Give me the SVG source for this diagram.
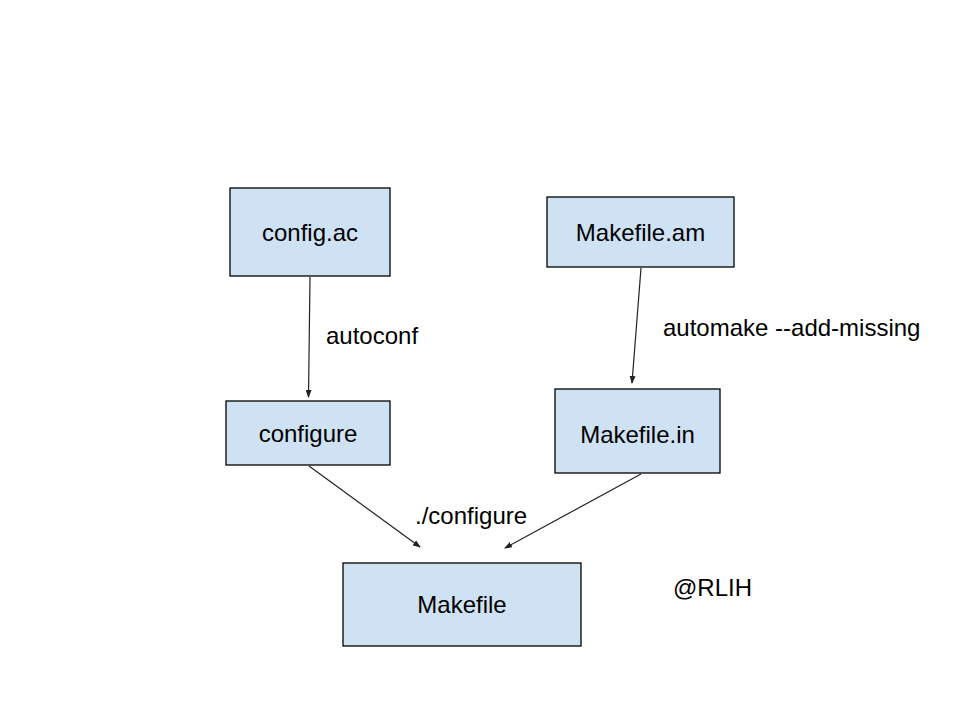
<svg xmlns="http://www.w3.org/2000/svg" width="960" height="720" viewBox="0 0 960 720">
<style>
.box{fill:#cfe2f3;stroke:#000;stroke-width:1.3}
.t{font-family:"Liberation Sans",Arial,sans-serif;font-size:24px;fill:#000}
.c{text-anchor:middle}
.e{stroke:#222;stroke-width:1.2;fill:none;marker-end:url(#ah)}
</style>
<defs>
<marker id="ah" markerWidth="8" markerHeight="6" refX="7" refY="3" orient="auto" markerUnits="userSpaceOnUse">
<path d="M0,0 L8,3 L0,6 Z" fill="#222"/>
</marker>
</defs>
<rect width="960" height="720" fill="#fff"/>
<g id="edges">
<line class="e" x1="310" y1="277" x2="308.5" y2="397"/>
<line class="e" x1="641" y1="268" x2="632" y2="383"/>
<line class="e" x1="309" y1="466" x2="420" y2="547"/>
<line class="e" x1="641" y1="474" x2="505" y2="548"/>
<text class="t" x="326" y="344">autoconf</text>
<text class="t" x="663" y="336">automake --add-missing</text>
<text class="t" x="415" y="524">./configure</text>
</g>
<g id="config_ac"><rect class="box" x="230" y="188" width="160" height="88"/><text class="t c" x="310" y="241">config.ac</text></g>
<g id="makefile_am"><rect class="box" x="547" y="197" width="187" height="70"/><text class="t c" x="640.5" y="241">Makefile.am</text></g>
<g id="configure"><rect class="box" x="226" y="401" width="164" height="64"/><text class="t c" x="308" y="442">configure</text></g>
<g id="makefile_in"><rect class="box" x="555" y="389" width="165" height="84"/><text class="t c" x="637.5" y="443">Makefile.in</text></g>
<g id="makefile"><rect class="box" x="343" y="563" width="238" height="83"/><text class="t c" x="462" y="613">Makefile</text></g>
<g id="credit"><text class="t" x="673" y="596">@RLIH</text></g>
</svg>
